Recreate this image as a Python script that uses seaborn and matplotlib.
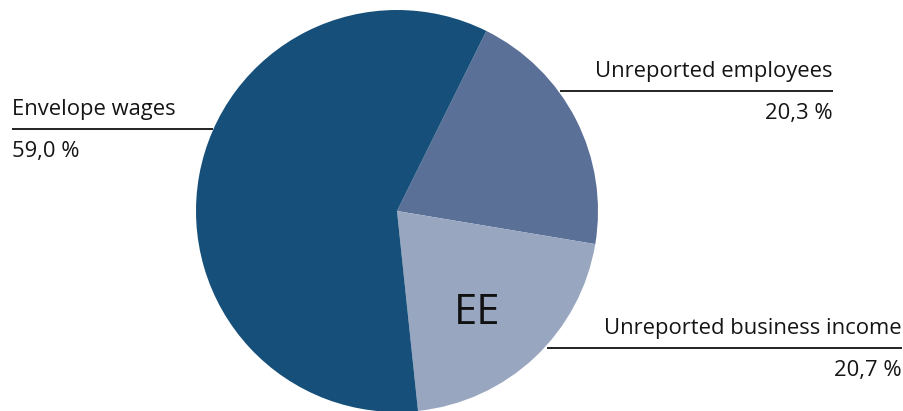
import matplotlib
matplotlib.use("Agg")
import matplotlib.pyplot as plt
import seaborn as sns

# Daten
labels = ["Unreported employees", "Unreported business income", "Envelope wages"]
shares = [20.3, 20.7, 59.0]
share_labels = ["20,3 %", "20,7 %", "59,0 %"]
colors = ["#5b7096", "#98a6c0", "#16507a"]
country = "EE"

sns.set_theme(style="white")
plt.rcParams['font.family'] = ['Open Sans', 'DejaVu Sans']

W, H = 904, 411
fig = plt.figure(figsize=(W / 100, H / 100), dpi=100)
ax = fig.add_axes([0, 0, 1, 1])

cx, cy, r = 397, H - 211, 201
ax.pie(shares, colors=colors, startangle=63.6, counterclock=False,
       center=(cx, cy), radius=r, wedgeprops=dict(linewidth=0))
ax.set_xlim(0, W)
ax.set_ylim(0, H)
ax.set_aspect('equal')
ax.axis('off')

fs = 15.8

# Beschriftungen mit Linien
def label(text, value, x0, x1, y, align):
    ax.plot([x0, x1], [H - y, H - y], color="#222222", lw=1.4,
            solid_capstyle='butt')
    tx = x0 if align == "left" else x1
    ax.text(tx, H - y + 14, text, ha=align, va="baseline", fontsize=fs,
            color="#151515")
    ax.text(tx, H - y - 12, value, ha=align, va="top", fontsize=fs,
            color="#151515")

label(labels[2], share_labels[2], 12, 213, 129, "left")
label(labels[0], share_labels[0], 560, 833, 91, "right")
label(labels[1], share_labels[1], 547, 902, 348, "right")

ax.text(477, H - 313, country, ha="center", va="center", fontsize=30,
        color="#111111")

fig.savefig("out.png", dpi=100)
